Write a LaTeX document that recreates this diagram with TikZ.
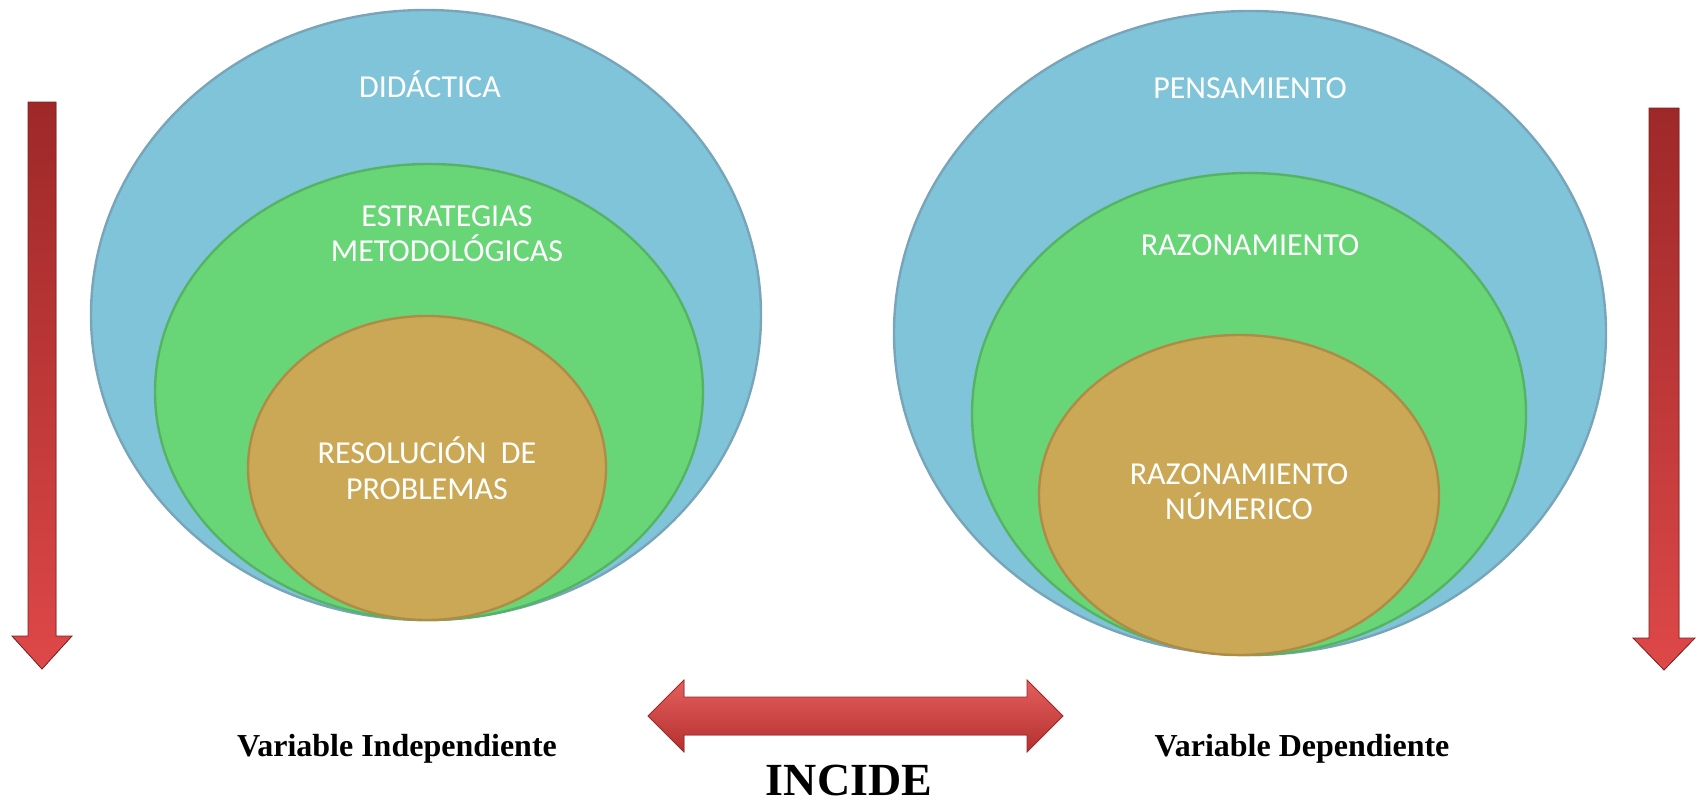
\documentclass[tikz,border=0pt]{standalone}
\usepackage{fontspec}
\setmainfont{Liberation Serif}
\newfontfamily\calibri{Carlito}
\definecolor{cblue}{RGB}{128,196,218}
\definecolor{cblueedge}{RGB}{120,165,185}
\definecolor{cbluehi}{RGB}{150,225,245}
\definecolor{cgreen}{RGB}{104,214,119}
\definecolor{cgreenedge}{RGB}{85,180,100}
\definecolor{cgreenhi}{RGB}{125,232,135}
\definecolor{corange}{RGB}{203,168,85}
\definecolor{corangeedge}{RGB}{175,140,70}
\definecolor{rtop}{RGB}{158,40,40}
\definecolor{rbot}{RGB}{222,72,72}
\definecolor{rlight}{RGB}{228,95,92}
\definecolor{rdark}{RGB}{180,48,48}
\tikzset{
  blueell/.style={fill=cblue, draw=cblueedge, line width=1.2pt},
  greenell/.style={fill=cgreen, draw=cgreenedge, line width=1.2pt},
  orangeell/.style={fill=corange, draw=corangeedge, line width=1.2pt},
  intext/.style={text=white, font=\calibri\fontsize{16}{17.5}\selectfont, align=center, inner sep=0pt},
  vartext/.style={font=\bfseries\fontsize{16}{18}\selectfont, inner sep=0pt},
  vertarrow/.style={top color=rtop, bottom color=rbot, draw=rtop!80!black, line width=0.4pt},
  horarrow/.style={top color=rlight, bottom color=rdark, draw=rdark!85!black, line width=0.4pt}
}
\begin{document}
\begin{tikzpicture}[x=0.5pt,y=-0.5pt]
\useasboundingbox (0,0) rectangle (1697,804);
% left group
\filldraw[blueell] (426,315) ellipse [x radius=167.5pt, y radius=152.5pt];
\filldraw[greenell] (429,392) ellipse [x radius=137pt, y radius=114pt];
\filldraw[orangeell] (427,468) ellipse [x radius=89.5pt, y radius=76pt];
% right group
\filldraw[blueell] (1250,333) ellipse [x radius=178pt, y radius=161pt];
\filldraw[greenell] (1249,414) ellipse [x radius=138.5pt, y radius=120.5pt];
\filldraw[orangeell] (1239,495) ellipse [x radius=100pt, y radius=80pt];
% texts in circles
\node[intext] (did) at (430,84) {DIDÁCTICA};
\node[intext] (est) at (447,234) {ESTRATEGIAS\\METODOLÓGICAS};
\node[intext, font=\calibri\fontsize{16}{18}\selectfont] (res) at (427,468) {RESOLUCIÓN\ \ DE\\PROBLEMAS};
\node[intext] (pen) at (1250,88) {PENSAMIENTO};
\node[intext] (raz) at (1250,245) {RAZONAMIENTO};
\node[intext] (rnum) at (1239,492) {RAZONAMIENTO\\NÚMERICO};
% vertical arrows
\filldraw[vertarrow] (28,102) -- (56,102) -- (56,636) -- (72,636) -- (42,669) -- (12,636) -- (28,636) -- cycle;
\filldraw[vertarrow] (1649,108) -- (1679,108) -- (1679,638) -- (1695,638) -- (1664,670) -- (1633,638) -- (1649,638) -- cycle;
% horizontal double arrow
\filldraw[horarrow] (648,716) -- (684,680) -- (684,697) -- (1027,697) -- (1027,680) -- (1063,716) -- (1027,752) -- (1027,735) -- (684,735) -- (684,752) -- cycle;
% bottom labels
\node[vartext] (vi) at (397,749) {Variable Independiente};
\node[vartext] (vd) at (1302,749) {Variable Dependiente};
\node[font=\bfseries\fontsize{23}{26}\selectfont, inner sep=0pt] (inc) at (849,780) {INCIDE};
\end{tikzpicture}
\end{document}
